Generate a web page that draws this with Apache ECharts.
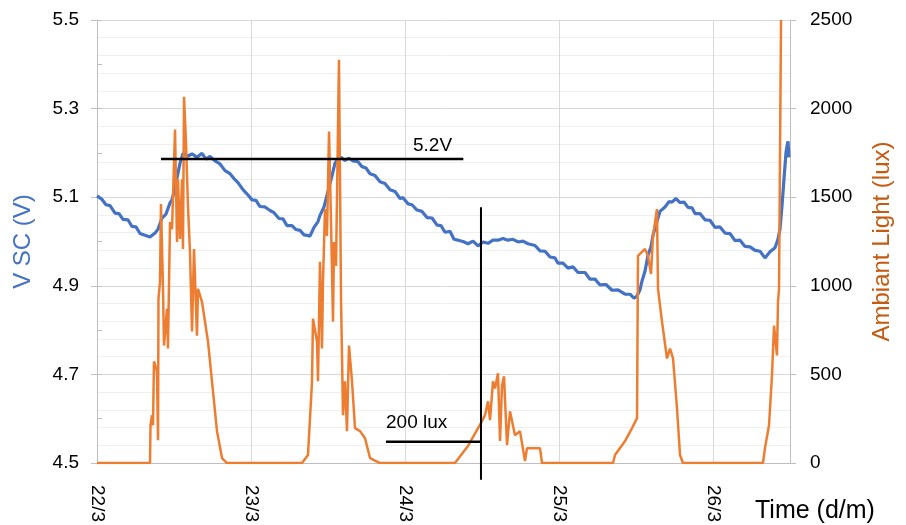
<!DOCTYPE html>
<html>
<head>
<meta charset="utf-8">
<script src="https://cdn.jsdelivr.net/npm/echarts@6/dist/echarts.min.js"></script>
<style>html,body{margin:0;padding:0;background:#fff}#c{width:906px;height:525px}</style>
</head>
<body>
<div id="c"></div>
<script>
// time axis: hours since 22/3 00:00
const dayLabels = ['22/3', '23/3', '24/3', '25/3', '26/3'];
const vTicks = [4.5, 4.7, 4.9, 5.1, 5.3, 5.5];
const luxTicks = [0, 500, 1000, 1500, 2000, 2500];

// supercapacitor voltage [hour, V]
const vscData = [
[0,5.103],[0.78,5.095],[1.40,5.083],[2.03,5.081],[2.81,5.064],[3.43,5.063],[4.05,5.050],[4.83,5.049],[5.45,5.034],[6.08,5.033],
[6.70,5.018],[7.48,5.014],[8.26,5.010],[9.04,5.019],[9.51,5.028],[10.13,5.053],[10.75,5.062],[11.38,5.087],[11.69,5.094],[12.31,5.132],
[12.94,5.177],[13.40,5.199],[14.18,5.193],[14.81,5.198],[15.58,5.190],[16.36,5.199],[16.99,5.186],[17.61,5.192],[18.39,5.182],[19.17,5.175],
[19.95,5.160],[20.73,5.153],[21.35,5.142],[21.97,5.133],[22.75,5.117],[23.53,5.105],[24.16,5.094],[24.78,5.093],[25.40,5.079],[26.18,5.078],
[26.96,5.070],[27.58,5.065],[28.36,5.052],[28.99,5.051],[29.61,5.036],[30.39,5.036],[31.01,5.027],[31.64,5.025],[32.26,5.015],[32.73,5.014],
[33.19,5.012],[33.82,5.032],[34.44,5.045],[34.75,5.059],[35.38,5.078],[36.00,5.113],[36.62,5.148],[37.09,5.177],[37.40,5.183],[38.03,5.190],
[38.65,5.183],[39.27,5.188],[39.90,5.182],[40.68,5.180],[41.30,5.169],[41.92,5.166],[42.55,5.153],[43.32,5.149],[44.10,5.135],[44.88,5.131],
[45.66,5.117],[46.44,5.113],[47.22,5.097],[47.69,5.099],[48.47,5.085],[49.09,5.083],[49.87,5.071],[50.65,5.068],[51.43,5.054],[52.21,5.053],
[52.99,5.037],[53.61,5.036],[54.23,5.021],[55.01,5.023],[55.64,5.005],[56.26,5.003],[57.04,5.000],[57.82,4.995],[58.60,5.001],[59.38,4.990],
[60.16,4.999],[60.94,4.996],[61.71,5.003],[62.49,5.003],[63.27,5.007],[64.05,5.003],[64.83,5.005],[65.61,4.999],[66.39,5.001],[67.17,4.995],
[68.26,4.991],[69.04,4.979],[69.82,4.978],[70.60,4.965],[71.38,4.963],[71.84,4.951],[72.62,4.951],[73.40,4.940],[74.18,4.943],[74.96,4.930],
[76.05,4.930],[76.83,4.915],[77.61,4.915],[78.39,4.902],[79.32,4.903],[80.26,4.890],[81.19,4.891],[82.29,4.881],[83.06,4.881],[83.69,4.872],
[84.16,4.877],[84.62,4.891],[84.94,4.911],[85.40,4.933],[85.87,4.969],[86.34,4.988],[86.65,5.014],[87.12,5.038],[87.74,5.068],[88.52,5.078],
[89.14,5.090],[89.61,5.089],[90.23,5.097],[90.86,5.088],[91.48,5.089],[92.10,5.077],[92.73,5.076],[93.19,5.063],[93.97,5.063],[94.75,5.049],
[95.53,5.048],[96.31,5.032],[97.09,5.033],[97.87,5.019],[98.65,5.018],[99.43,5.002],[100.21,5.003],[100.99,4.989],[101.77,4.988],[102.55,4.980],
[103.32,4.978],[104.10,4.963],[104.88,4.977],[105.66,4.986],[106.13,5.005],[106.44,5.028],[106.75,5.080],[107.06,5.140],[107.38,5.201],[107.53,5.215],
[107.69,5.226],[107.84,5.190]
];

// ambient light [hour, lux]
const luxData = [
[0,0],[8.26,0],[8.34,213],[8.57,270],[8.73,213],[8.88,573],[9.35,517],[9.51,129],[9.58,927],[9.82,1022],[9.97,1461],[10.29,983],[10.44,663],
[10.91,871],[11.06,646],[11.38,1360],[11.69,1320],[12.16,1882],[12.47,1247],[12.62,1601],[12.94,1264],[13.25,1601],[13.40,1208],[13.56,2067],
[13.87,1809],[14.18,1449],[14.49,1191],[14.81,742],[15.12,1208],[15.58,719],[15.74,983],[16.36,910],[17.30,685],[17.92,461],[18.70,180],
[19.48,28],[20.26,0],
[31.95,0],[32.88,45],[33.51,461],[33.66,815],[34.29,685],[34.44,461],[34.75,1135],[35.06,646],[35.22,1022],[35.53,1433],[35.84,1281],
[36.16,1871],[36.47,1360],[36.78,798],[36.94,1247],[37.25,1112],[37.71,2275],[38.03,927],[38.34,270],[38.65,461],[38.96,180],[39.27,663],
[39.74,461],[40.21,197],[40.99,180],[41.77,140],[42.55,28],[44.10,0],
[55.79,0],[57.82,96],[59.38,197],[59.84,225],[60.47,270],[60.94,348],[61.25,242],[61.71,461],[62.03,421],[62.49,506],[62.81,124],[63.12,438],
[63.43,489],[63.90,101],[64.36,292],[65.14,157],[65.92,180],[66.70,11],[67.01,84],[69.04,84],[69.35,0],
[80.42,0],[80.73,45],[82.29,124],[83.38,197],[84.16,253],[84.31,1169],[85.40,1208],[85.87,1169],[86.34,1067],[86.65,1281],[87.27,1433],
[87.43,983],[88.05,798],[88.83,590],[89.30,646],[89.77,590],[90.39,309],[90.86,45],[91.32,0],
[103.79,0],[104.10,84],[104.73,213],[105.19,494],[105.51,775],[105.97,607],[106.13,910],[106.29,983],[106.60,2500]
];

// annotations
const refVoltLine = [[9.97, 5.186], [57.09, 5.186]];
const refVoltLabel = [[49.25, 5.217]];
const cutTimeLine = [[59.84, 4.462], [59.84, 5.0775]];
const refLuxLine = [[45.04, 120], [59.84, 120]];
const refLuxLabel = [[45.04, 225]];

const FONT = 'Liberation Sans';
const TXT = '#000';
const AX = '#bfbfbf';

const chart = echarts.init(document.getElementById('c'), null, {renderer: 'canvas'});
chart.setOption({
  animation: false,
  backgroundColor: '#fff',
  textStyle: {fontFamily: FONT},
  grid: {left: 97, right: 116, top: 20, bottom: 60, containLabel: false},
  xAxis: {
    type: 'value', min: 0, max: 108, interval: 24,
    name: 'Time (d/m)', nameLocation: 'end', nameGap: -35,
    nameTextStyle: {fontFamily: FONT, fontSize: 25, color: TXT, align: 'left', verticalAlign: 'top', padding: [36, 0, 0, 0]},
    axisLine: {show: true, lineStyle: {color: AX, width: 1}},
    axisTick: {show: false},
    axisLabel: {
      rotate: -90, margin: 22, fontFamily: FONT, fontSize: 19, color: TXT,
      formatter: v => (v % 24 === 0 && dayLabels[v / 24]) ? dayLabels[v / 24] : ''
    },
    splitLine: {show: true, lineStyle: {color: '#d9d9d9', width: 1}}
  },
  yAxis: [
    {
      type: 'value', min: vTicks[0], max: vTicks[vTicks.length - 1], interval: 0.2, position: 'left',
      name: 'V SC (V)', nameLocation: 'middle', nameGap: 62, nameRotate: 90,
      nameTextStyle: {fontFamily: FONT, fontSize: 24, color: '#4472C4'},
      axisLine: {show: true, lineStyle: {color: AX, width: 1}},
      axisTick: {show: true, length: 6, lineStyle: {color: AX}},
      axisLabel: {margin: 18, fontFamily: FONT, fontSize: 19, color: TXT, formatter: v => v.toFixed(1)},
      splitLine: {show: false}
    },
    {
      type: 'value', min: luxTicks[0], max: luxTicks[luxTicks.length - 1], interval: 500, position: 'right',
      name: 'Ambiant Light (lux)', nameLocation: 'middle', nameGap: 80, nameRotate: 90,
      nameTextStyle: {fontFamily: FONT, fontSize: 24, color: '#C55A11'},
      axisLine: {show: true, lineStyle: {color: AX, width: 1}},
      axisTick: {show: true, length: 6, lineStyle: {color: AX}},
      axisLabel: {margin: 20, fontFamily: FONT, fontSize: 19, color: TXT, formatter: v => String(v)},
      splitLine: {show: true, lineStyle: {color: '#d9d9d9', width: 1}},
      minorSplitLine: {show: true, lineStyle: {color: '#efefef', width: 1}},
      minorTick: {show: false, splitNumber: 5}
    },
    {
      type: 'value', min: vTicks[0], max: vTicks[vTicks.length - 1], interval: 0.1, position: 'left',
      axisLine: {show: false}, axisLabel: {show: false}, splitLine: {show: false},
      axisTick: {show: true, inside: true, length: 5, lineStyle: {color: AX}}
    }
  ],
  series: [
    {
      name: 'V SC', type: 'line', yAxisIndex: 0, data: vscData, showSymbol: false, symbol: 'none',
      lineStyle: {color: '#4472C4', width: 3.2}, z: 2
    },
    {
      name: 'Ambiant Light', type: 'line', yAxisIndex: 1, data: luxData, showSymbol: false, symbol: 'none',
      lineStyle: {color: '#ED7D31', width: 2.5}, z: 3
    },
    {
      type: 'line', yAxisIndex: 0, data: refVoltLine, symbol: 'none', lineStyle: {color: '#000', width: 2.5}, z: 4
    },
    {
      type: 'line', yAxisIndex: 0, data: cutTimeLine, symbol: 'none', clip: false, lineStyle: {color: '#000', width: 2}, z: 4
    },
    {
      type: 'line', yAxisIndex: 1, data: refLuxLine, symbol: 'none', lineStyle: {color: '#000', width: 2.5}, z: 4
    },
    {
      type: 'scatter', yAxisIndex: 0, data: refVoltLabel, symbolSize: 0, z: 5, itemStyle: {opacity: 1},
      label: {show: true, position: 'right', distance: 0, formatter: '5.2V', fontFamily: FONT, fontSize: 19, color: '#000', textBorderWidth: 0, opacity: 1}
    },
    {
      type: 'scatter', yAxisIndex: 1, data: refLuxLabel, symbolSize: 0, z: 5, itemStyle: {opacity: 1},
      label: {show: true, position: 'right', distance: 0, formatter: '200 lux', fontFamily: FONT, fontSize: 19, color: '#000', textBorderWidth: 0, opacity: 1}
    }
  ]
});
</script>
</body>
</html>
